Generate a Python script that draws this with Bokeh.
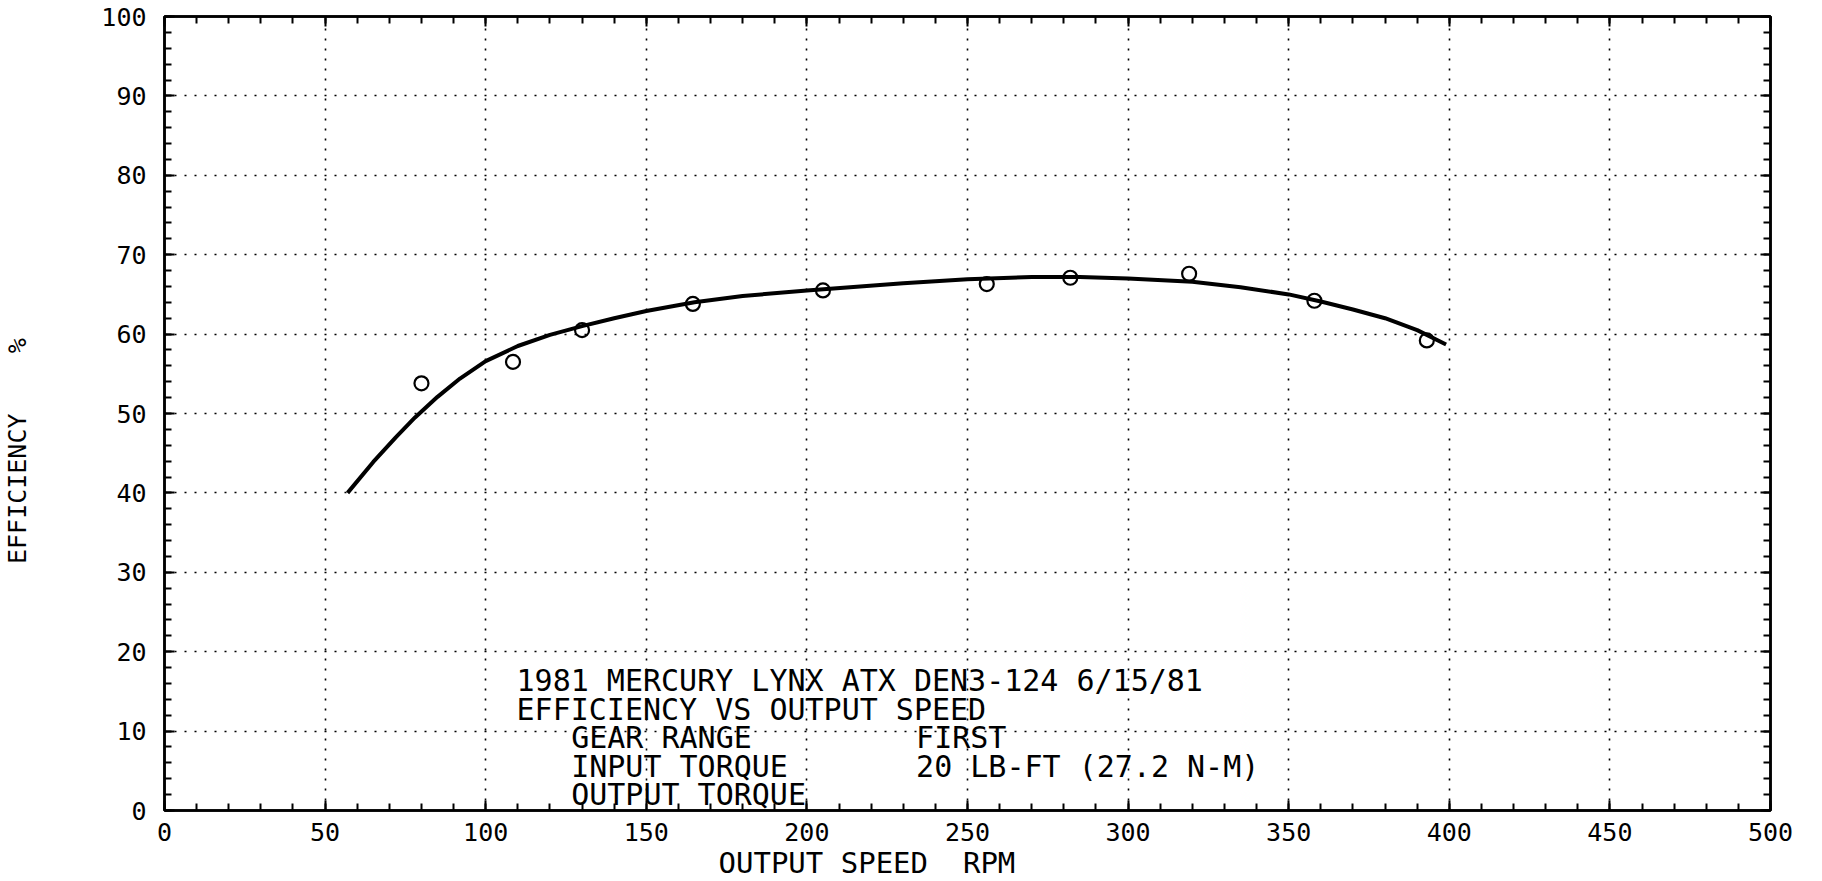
from bokeh.plotting import figure
from bokeh.models import (LinearAxis, ColumnDataSource, SingleIntervalTicker,
                          CustomJSTickFormatter, Title)
from bokeh.core.properties import value
from bokeh.embed import file_html
from bokeh.resources import INLINE

FONT = "DejaVu Sans Mono"
NB = "\u00a0"

# ---- data ----
curve_speed = [57, 65, 72, 78, 85, 92, 100, 110, 120, 130, 140, 150, 165, 180, 200,
               230, 250, 270, 285, 300, 320, 335, 350, 360, 370, 380, 390, 399]
curve_eff = [40.0, 43.9, 47.0, 49.5, 52.1, 54.4, 56.6, 58.5, 59.9, 61.0, 62.0, 62.9, 64.0,
             64.8, 65.5, 66.4, 66.9, 67.2, 67.2, 67.0, 66.6, 65.9, 65.0, 64.1, 63.1, 62.0,
             60.5, 58.7]

point_speed = [80, 108.5, 130, 164.5, 205, 256, 282, 319, 358, 393]
point_eff = [53.8, 56.5, 60.5, 63.8, 65.5, 66.3, 67.1, 67.6, 64.2, 59.2]

note_lines = ["1981 MERCURY LYNX ATX DEN3-124 6/15/81",
              "EFFICIENCY VS OUTPUT SPEED",
              "GEAR RANGE",
              "INPUT TORQUE",
              "OUTPUT TORQUE",
              "FIRST",
              "20 LB-FT (27.2 N-M)"]
note_x = [109.6, 109.6, 126.6, 126.6, 126.6, 234, 234]
note_y = [16.4, 12.7, 9.2, 5.6, 2.0, 9.2, 5.6]

x_title = "OUTPUT SPEED" + NB + " RPM"
y_title = "EFFICIENCY" + NB * 3 + " %"

# ---- figure ----
p = figure(frame_width=1606, frame_height=794,
           x_range=(0, 500), y_range=(0, 100),
           output_backend="svg", toolbar_location=None,
           min_border_left=163, min_border_top=16,
           min_border_right=50, min_border_bottom=68)
p.outline_line_color = "black"
p.outline_line_width = 2.5
p.background_fill_color = "white"
p.border_fill_color = "white"

xt = SingleIntervalTicker(interval=50, num_minor_ticks=5)
yt = SingleIntervalTicker(interval=10, num_minor_ticks=5)

def style_axis(ax, labels=True):
    ax.axis_line_color = "black"
    ax.axis_line_width = 2.5
    ax.major_tick_line_color = "black"
    ax.minor_tick_line_color = "black"
    ax.major_tick_line_width = 2
    ax.minor_tick_line_width = 2
    ax.major_tick_in = 10
    ax.major_tick_out = 0
    ax.minor_tick_in = 7
    ax.minor_tick_out = 0
    if labels:
        ax.major_label_text_font = FONT
        ax.major_label_text_font_size = "25px"
        ax.major_label_text_color = "black"
    else:
        ax.formatter = CustomJSTickFormatter(code="return '';")
        ax.major_label_standoff = 0

p.xaxis.ticker = xt
p.yaxis.ticker = yt
style_axis(p.xaxis[0])
style_axis(p.yaxis[0])
p.xaxis.major_label_standoff = 12
p.yaxis.major_label_standoff = 18

# y title as the axis label, pushed out to the page edge and nudged down
p.yaxis.axis_label = y_title + NB * 5
p.yaxis.axis_label_standoff = 66
p.yaxis.axis_label_text_font = FONT
p.yaxis.axis_label_text_font_size = "25px"
p.yaxis.axis_label_text_font_style = "normal"
p.yaxis.axis_label_text_color = "black"

top = LinearAxis(ticker=SingleIntervalTicker(interval=50, num_minor_ticks=5))
right = LinearAxis(ticker=SingleIntervalTicker(interval=10, num_minor_ticks=5))
style_axis(top, labels=False)
style_axis(right, labels=False)
p.add_layout(top, "above")
p.add_layout(right, "right")

p.xgrid.ticker = xt
p.ygrid.ticker = yt
for g in (p.xgrid, p.ygrid):
    g.grid_line_color = "black"
    g.grid_line_width = 1.6
    g.grid_line_dash = "2 8"

# curve and measured points
p.line(curve_speed, curve_eff, line_color="black", line_width=4)
p.scatter(point_speed, point_eff, marker="circle", size=14,
          fill_color=None, line_color="black", line_width=2.2)

# notes block
src = ColumnDataSource(dict(x=note_x, y=note_y, t=note_lines))
p.text(x="x", y="y", text="t", source=src, text_font=value(FONT),
       text_font_size="30px", text_baseline="middle", text_align="left",
       text_color="black")

# x title
p.add_layout(Title(text=x_title, align="left", offset=554, standoff=0,
                   text_font=FONT, text_font_size="29px",
                   text_font_style="normal", text_color="black"), "below")

open("out.html", "w").write(file_html(p, INLINE))
